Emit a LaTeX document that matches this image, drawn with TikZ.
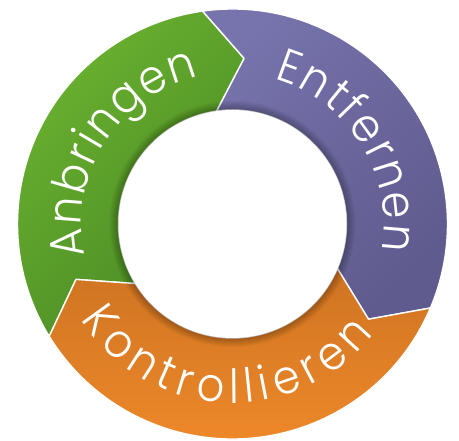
\documentclass[tikz,border=0pt]{standalone}
\usepackage{fontspec}
\newfontfamily\ringfont[FakeStretch=0.92]{Poppins-Light.ttf}
\usetikzlibrary{decorations.text}
\definecolor{greenlight}{HTML}{6BB22F}
\definecolor{greendark}{HTML}{4A8A26}
\definecolor{purplelight}{HTML}{7773AC}
\definecolor{purpledark}{HTML}{5F5B8E}
\definecolor{orangetop}{HTML}{CF7422}
\definecolor{orangebottom}{HTML}{F28B2B}

\begin{document}
\begin{tikzpicture}[x=1pt, y=1pt,
  segment/.style={draw=white, line width=1.4pt, line join=round},
  ringtext/.style={decorate, decoration={text along path, text align={fit to path},
    text={|\ringfont\fontsize{47}{47}\selectfont\color{white}|#1}}}]
  \useasboundingbox (0,0) rectangle (459,441);

  \begin{scope}[shift={(232.5,217)}]
    % Segment 1 - Anbringen (left, green)
    \path[segment, top color=greenlight, bottom color=greendark, shading angle=45]
      (211.5:215) arc[start angle=211.5, end angle=98, radius=215]
      -- (86:166) -- (98:114)
      arc[start angle=98, end angle=211.5, radius=114]
      -- (199.5:166) -- cycle;

    % Segment 2 - Entfernen (right, purple)
    \path[segment, top color=purplelight, bottom color=purpledark, shading angle=45]
      (98:215) arc[start angle=98, end angle=-23, radius=215]
      -- (-35:166) -- (-23:114)
      arc[start angle=-23, end angle=98, radius=114]
      -- (86:166) -- cycle;

    % Segment 3 - Kontrollieren (bottom, orange)
    \path[segment, top color=orangetop, bottom color=orangebottom]
      (-23:215) arc[start angle=-23, end angle=-148.5, radius=215]
      -- (-160.5:166) -- (-148.5:114)
      arc[start angle=-148.5, end angle=-23, radius=114]
      -- (-35:166) -- cycle;

    % soft shadow round the hole
    \foreach \w in {2,4,...,18}
      \draw[black, opacity=0.03, line width=\w pt] (0,0) circle[radius=114];
    \fill[white] (0,0) circle[radius=114];

    % Labels along the ring
    \path[ringtext=Anbringen] (192:151) arc[start angle=192, end angle=103, radius=151];
    \path[ringtext=Entfernen] (74:151) arc[start angle=74, end angle=-10, radius=151];
    \path[ringtext=Kontrollieren] (-148:179) arc[start angle=-148, end angle=-38, radius=179];
  \end{scope}
\end{tikzpicture}
\end{document}
